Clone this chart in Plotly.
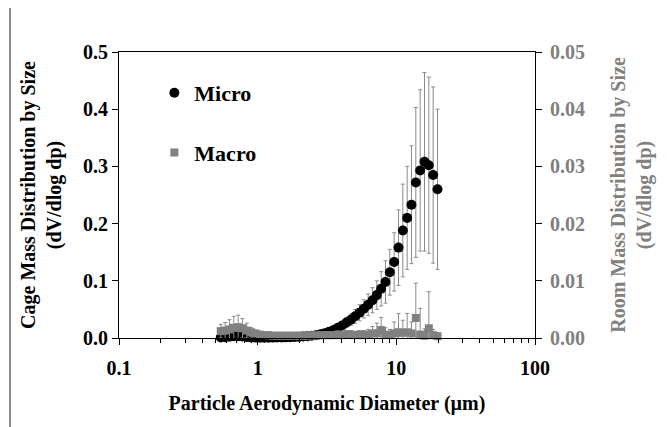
import plotly.graph_objects as go

# APS channel midpoints (µm)
diameter = [0.542, 0.583, 0.626, 0.673, 0.723, 0.777, 0.835, 0.898, 0.965, 1.037,
            1.114, 1.197, 1.286, 1.382, 1.486, 1.596, 1.715, 1.843, 1.981,
            2.129, 2.288, 2.458, 2.642, 2.839, 3.051,
            3.278, 3.523, 3.786, 4.068, 4.371, 4.698,
            5.048, 5.425, 5.829, 6.264, 6.732, 7.234, 7.774,
            8.354, 8.977, 9.647, 10.37, 11.14, 11.97, 12.86, 13.82, 14.86, 15.96, 17.15, 18.43, 19.81]

micro = [0.0008, 0.0015, 0.0024, 0.003, 0.003, 0.0025, 0.0016, 0.001, 0.0007, 0.0006,
         0.0006, 0.0006, 0.0007, 0.0008, 0.0009, 0.0011, 0.0013, 0.0016, 0.002,
         0.0025, 0.0032, 0.004, 0.005, 0.0065, 0.0085,
         0.011, 0.014, 0.018, 0.022, 0.027, 0.032,
         0.038, 0.044, 0.051, 0.058, 0.066, 0.075, 0.086,
         0.098, 0.115, 0.133, 0.158, 0.188, 0.21, 0.233, 0.272, 0.293, 0.308, 0.302, 0.285, 0.26]

micro_err = [0.0004, 0.0006, 0.0008, 0.001, 0.001, 0.0008, 0.0006, 0.0004, 0.0003, 0.0003,
             0.0003, 0.0003, 0.0003, 0.0003, 0.0004, 0.0004, 0.0005, 0.0006, 0.0007,
             0.0008, 0.001, 0.0013, 0.0016, 0.002, 0.0026,
             0.0033, 0.0042, 0.0055, 0.0068, 0.0085, 0.01,
             0.012, 0.014, 0.016, 0.019, 0.022, 0.025, 0.03,
             0.037, 0.04, 0.051, 0.066, 0.081, 0.09, 0.103, 0.131, 0.141, 0.156, 0.154, 0.154, 0.14]

macro = [0.0012, 0.0013, 0.0015, 0.0018, 0.0019, 0.0017, 0.0013, 0.0010, 0.0008, 0.0006,
         0.0005, 0.0005, 0.0004, 0.0004, 0.0004, 0.0004, 0.0004, 0.0004, 0.0004,
         0.0004, 0.0004, 0.0005, 0.0004, 0.0005, 0.0005,
         0.0005, 0.0005, 0.0006, 0.0005, 0.0006, 0.0006,
         0.0005, 0.0006, 0.0005, 0.0006, 0.0008, 0.0008, 0.0014,
         0.0006, 0.0005, 0.0008, 0.0010, 0.0009, 0.0010, 0.0008, 0.0035, 0.0006, 0.0004, 0.0017, 0.0005, 0.0003]

macro_err = [0.0012, 0.0014, 0.0017, 0.0020, 0.0021, 0.0017, 0.0013, 0.0008, 0.0005, 0.0004,
             0.0003, 0.0003, 0.0003, 0.0003, 0.0003, 0.0003, 0.0003, 0.0003, 0.0003,
             0.0003, 0.0003, 0.0004, 0.0004, 0.0004, 0.0005,
             0.0005, 0.0005, 0.0006, 0.0006, 0.0007, 0.0007,
             0.0006, 0.0007, 0.0008, 0.0009, 0.0012, 0.0018, 0.0022,
             0.0012, 0.0010, 0.0020, 0.0033, 0.0022, 0.0033, 0.0020, 0.0061, 0.0046, 0.0012, 0.0064, 0.0010, 0.0006]

x_ticks = [0.1, 1, 10, 100]
x_tick_labels = ["0.1", "1", "10", "100"]

BLACK = "#000000"
GRAY = "#808080"
ERR = "#8a8a8a"
FONT = "Liberation Serif"

fig = go.Figure()

# error bars (clipped to plot area)
fig.add_trace(go.Scatter(x=diameter, y=micro, mode="markers", yaxis="y",
                         marker=dict(size=1, opacity=0), showlegend=False, hoverinfo="skip",
                         error_y=dict(type="data", array=micro_err, color=ERR, thickness=1, width=2)))
fig.add_trace(go.Scatter(x=diameter, y=micro, mode="markers", name="Micro", yaxis="y",
                         marker=dict(symbol="circle", size=10, color=BLACK),
                         cliponaxis=False, legendgroup="a"))
fig.add_trace(go.Scatter(x=diameter, y=macro, mode="markers", yaxis="y2",
                         marker=dict(size=1, opacity=0), showlegend=False, hoverinfo="skip",
                         error_y=dict(type="data", array=macro_err, color=ERR, thickness=1, width=2)))
fig.add_trace(go.Scatter(x=diameter, y=macro, mode="markers", name="Macro", yaxis="y2",
                         marker=dict(symbol="square", size=8, color=GRAY),
                         cliponaxis=False, legendgroup="b"))

fig.update_layout(
    width=667, height=427,
    margin=dict(l=111, r=140, t=44, b=97),
    paper_bgcolor="white", plot_bgcolor="white",
    font=dict(family=FONT, size=20, color=BLACK, weight="bold"),
    xaxis=dict(type="log", range=[-1, 2], tickvals=x_ticks, ticktext=x_tick_labels,
               ticks="outside", ticklen=6, tickwidth=1, tickcolor=BLACK,
               showline=True, linecolor=BLACK, linewidth=1, mirror=True,
               showgrid=False, zeroline=False, tickfont=dict(size=20), ticklabelstandoff=6,
               minor=dict(ticks="outside", ticklen=4, tickcolor=BLACK, dtick="D1", showgrid=False),
               title=dict(text="Particle Aerodynamic Diameter (µm)", font=dict(size=20), standoff=17)),
    yaxis=dict(range=[0, 0.5], dtick=0.1, tickformat=".1f",
               ticks="outside", ticklen=6, tickcolor=BLACK,
               showline=True, linecolor=BLACK, linewidth=1,
               showgrid=False, zeroline=False, tickfont=dict(size=20),
               title=dict(text="Cage Mass Distribution by Size<br>(dV/dlog dp)", font=dict(size=20), standoff=16)),
    yaxis2=dict(range=[0, 0.05], dtick=0.01, tickformat=".2f", overlaying="y", side="right",
                ticks="outside", ticklen=6, tickcolor=BLACK,
                showline=True, linecolor=BLACK, linewidth=1,
                showgrid=False, zeroline=False, tickfont=dict(size=20, color=GRAY), ticklabelstandoff=4,
                title=dict(text="Room Mass Distribution by Size<br>(dV/dlog dp)",
                           font=dict(size=20, color=GRAY), standoff=26)),
    legend=dict(x=0.085, y=0.93, xanchor="left", yanchor="top", bgcolor="rgba(0,0,0,0)",
                font=dict(size=22), tracegroupgap=28, itemwidth=30, traceorder="grouped"),
    shapes=[dict(type="rect", xref="paper", yref="paper", x0=-0.262, x1=1.6, y0=-0.6, y1=1.164,
                 line=dict(color="#8c8c8c", width=2), layer="below")],
)

fig.write_html("out.html")
